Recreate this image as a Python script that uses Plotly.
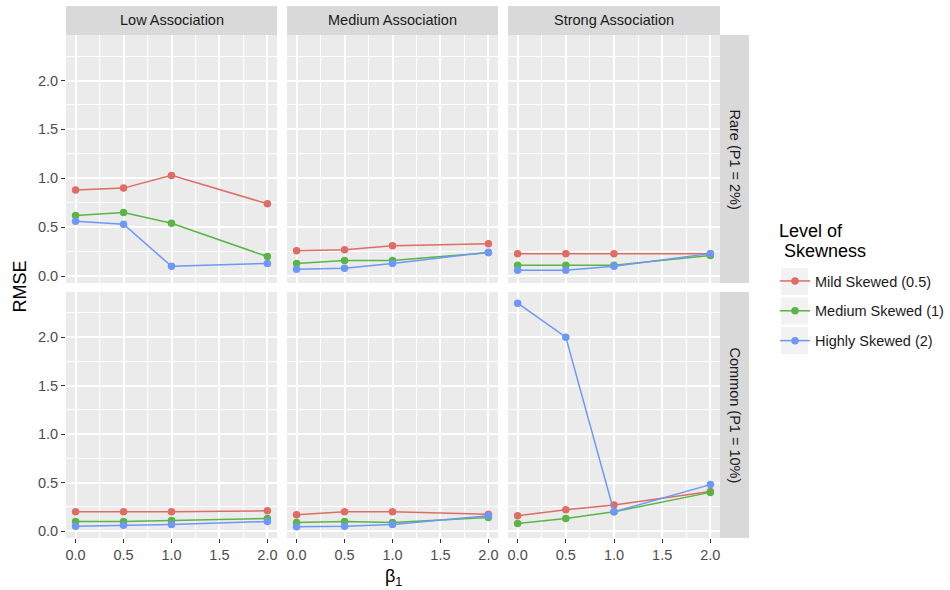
import plotly.graph_objects as go

# ---- data -------------------------------------------------------------
beta1 = [0.0, 0.5, 1.0, 2.0]
associations = ["Low Association", "Medium Association", "Strong Association"]
prevalences = ["Rare (P1 = 2%)", "Common (P1 = 10%)"]
skew_levels = ["Mild Skewed (0.5)", "Medium Skewed (1)", "Highly Skewed (2)"]
skew_colors = ["#DE6D64", "#5AB545", "#6D98F7"]

# RMSE per association (low, medium, strong), one list per skewness level
rare_mild = [[0.88, 0.90, 1.03, 0.74], [0.26, 0.27, 0.31, 0.33], [0.23, 0.23, 0.23, 0.23]]
rare_medium = [[0.62, 0.65, 0.54, 0.20], [0.13, 0.16, 0.16, 0.24], [0.11, 0.11, 0.11, 0.21]]
rare_high = [[0.56, 0.53, 0.10, 0.13], [0.07, 0.08, 0.13, 0.245], [0.06, 0.06, 0.10, 0.23]]

common_mild = [[0.20, 0.20, 0.20, 0.21], [0.17, 0.20, 0.20, 0.175], [0.16, 0.22, 0.27, 0.41]]
common_medium = [[0.10, 0.10, 0.11, 0.13], [0.09, 0.10, 0.09, 0.14], [0.08, 0.13, 0.20, 0.40]]
common_high = [[0.05, 0.06, 0.07, 0.10], [0.045, 0.05, 0.07, 0.16], [2.35, 2.00, 0.20, 0.48]]

rmse = {
    0: [rare_mild, rare_medium, rare_high],
    1: [common_mild, common_medium, common_high],
}

# ---- layout geometry (pixels of a 950 x 590 canvas) -------------------
W, H = 950, 590
col_px = [(66, 277), (287, 498), (508, 720)]
row_px = [(35, 283), (292, 538)]
strip_top = (6, 35)
strip_right = (720, 749)

FONT = "Liberation Sans, Arial, Helvetica, sans-serif"


def px_x(v):
    return v / W


def px_y(v):
    return 1 - v / H


all_vals = [v for r in rmse.values() for s in r for a in s for v in a]
lo, hi = min(all_vals), max(all_vals)
pad = 0.05 * (hi - lo)
y_range = [lo - pad, hi + pad]
x_range = [-0.1, 2.1]

fig = go.Figure()
layout = dict(
    width=W, height=H,
    margin=dict(l=0, r=0, t=0, b=0),
    paper_bgcolor="white",
    plot_bgcolor="#EBEBEB",
    font=dict(family=FONT, size=14.5, color="#1A1A1A"),
    shapes=[], annotations=[],
)

k = 0
for r in range(2):
    for c in range(3):
        k += 1
        xname = "xaxis" if k == 1 else f"xaxis{k}"
        yname = "yaxis" if k == 1 else f"yaxis{k}"
        xid = "x" if k == 1 else f"x{k}"
        yid = "y" if k == 1 else f"y{k}"
        x0, x1 = col_px[c]
        y0, y1 = row_px[r]
        bottom = r == 1
        left = c == 0
        layout[xname] = dict(
            domain=[px_x(x0), px_x(x1)], range=x_range, anchor=yid,
            tickvals=[0, 0.5, 1, 1.5, 2], tickformat=".1f",
            showticklabels=bottom, ticks="outside" if bottom else "",
            ticklen=4, tickwidth=1, tickcolor="#333333",
            tickfont=dict(size=14.5, color="#4D4D4D"),
            showgrid=True, gridcolor="white", gridwidth=1.6,
            minor=dict(tickmode="array", tickvals=[0.25, 0.75, 1.25, 1.75],
                       showgrid=True, gridcolor="white", gridwidth=0.8),
            zeroline=False, showline=False, fixedrange=True,
        )
        layout[yname] = dict(
            domain=[px_y(y1), px_y(y0)], range=y_range, anchor=xid,
            tickvals=[0, 0.5, 1, 1.5, 2], tickformat=".1f",
            showticklabels=left, ticks="outside" if left else "",
            ticklen=4, tickwidth=1, tickcolor="#333333",
            tickfont=dict(size=14.5, color="#4D4D4D"),
            showgrid=True, gridcolor="white", gridwidth=1.6,
            minor=dict(tickmode="array", tickvals=[0.25, 0.75, 1.25, 1.75, 2.25],
                       showgrid=True, gridcolor="white", gridwidth=0.8),
            zeroline=False, showline=False, fixedrange=True,
        )
        for s, (name, color) in enumerate(zip(skew_levels, skew_colors)):
            fig.add_trace(go.Scatter(
                x=beta1, y=rmse[r][s][c], mode="lines+markers",
                name=name, legendgroup=name, showlegend=(k == 1),
                line=dict(color=color, width=1.5),
                marker=dict(color=color, size=7.5),
                xaxis=xid, yaxis=yid,
            ))

# facet strips along the top
for c, label in enumerate(associations):
    x0, x1 = col_px[c]
    layout["shapes"].append(dict(
        type="rect", xref="paper", yref="paper", layer="below",
        x0=px_x(x0), x1=px_x(x1), y0=px_y(strip_top[1]), y1=px_y(strip_top[0]),
        fillcolor="#D9D9D9", line=dict(width=0)))
    layout["annotations"].append(dict(
        text=label, xref="paper", yref="paper", showarrow=False,
        x=px_x((x0 + x1) / 2), y=px_y((strip_top[0] + strip_top[1]) / 2),
        xanchor="center", yanchor="middle",
        font=dict(size=14.5, color="#1A1A1A")))

# facet strips along the right side
for r, label in enumerate(prevalences):
    y0, y1 = row_px[r]
    layout["shapes"].append(dict(
        type="rect", xref="paper", yref="paper", layer="below",
        x0=px_x(strip_right[0]), x1=px_x(strip_right[1]), y0=px_y(y1), y1=px_y(y0),
        fillcolor="#D9D9D9", line=dict(width=0)))
    layout["annotations"].append(dict(
        text=label, xref="paper", yref="paper", showarrow=False, textangle=90,
        x=px_x((strip_right[0] + strip_right[1]) / 2), y=px_y((y0 + y1) / 2),
        xanchor="center", yanchor="middle",
        font=dict(size=14.5, color="#1A1A1A")))

# axis titles
layout["annotations"].append(dict(
    text="RMSE", xref="paper", yref="paper", showarrow=False, textangle=-90,
    x=px_x(20), y=px_y((row_px[0][0] + row_px[1][1]) / 2),
    xanchor="center", yanchor="middle", font=dict(size=18, color="black")))
layout["annotations"].append(dict(
    text="β<sub>1</sub>", xref="paper", yref="paper", showarrow=False,
    x=px_x((col_px[0][0] + col_px[2][1]) / 2), y=px_y(577),
    xanchor="center", yanchor="middle", font=dict(size=18, color="black")))

# legend title, set as two tight lines
layout["annotations"].append(dict(
    text="Level of", xref="paper", yref="paper", showarrow=False,
    x=px_x(777), y=px_y(231), xanchor="left", yanchor="middle",
    font=dict(size=18, color="black")))
layout["annotations"].append(dict(
    text="Skewness", xref="paper", yref="paper", showarrow=False,
    x=px_x(782), y=px_y(251), xanchor="left", yanchor="middle",
    font=dict(size=18, color="black")))

# grey key backgrounds behind the legend symbols
for i in range(3):
    top = 268 + 29.5 * i
    layout["shapes"].append(dict(
        type="rect", xref="paper", yref="paper", layer="below",
        x0=px_x(781), x1=px_x(808), y0=px_y(top + 27), y1=px_y(top),
        fillcolor="#F2F2F2", line=dict(width=0)))

layout["legend"] = dict(
    x=px_x(775), y=px_y(265), xanchor="left", yanchor="top",
    bgcolor="rgba(0,0,0,0)", borderwidth=0,
    font=dict(size=14.5, color="#1A1A1A"),
    tracegroupgap=8, itemwidth=30,
)

fig.update_layout(**layout)
fig.write_html("out.html")
